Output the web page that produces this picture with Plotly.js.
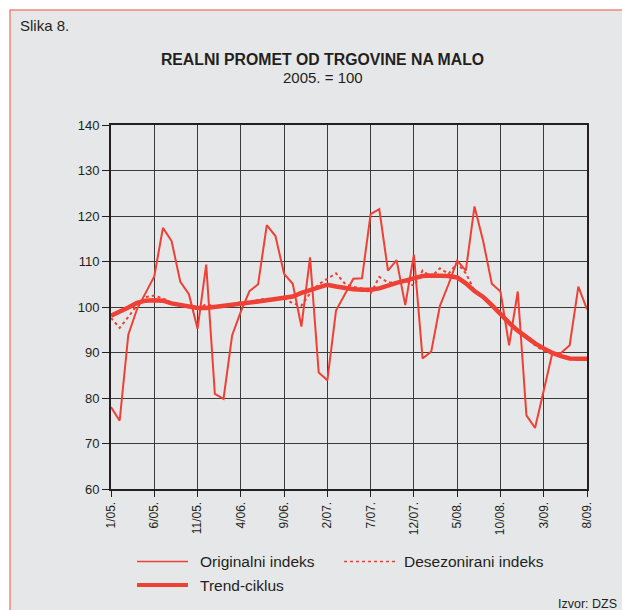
<!DOCTYPE html>
<html>
<head>
<meta charset="utf-8">
<script src="https://cdn.plot.ly/plotly-3.0.1.min.js"></script>
<style>
  html, body { margin: 0; padding: 0; background: #ffffff; overflow: hidden; }
  #chart { width: 622px; height: 610px; }
</style>
</head>
<body>
<div id="chart"></div>
<script>
// Month categories (Jan 2005 – Aug 2009)
const months = [
  "1/05.","2/05.","3/05.","4/05.","5/05.","6/05.","7/05.","8/05.","9/05.","10/05.","11/05.","12/05.",
  "1/06.","2/06.","3/06.","4/06.","5/06.","6/06.","7/06.","8/06.","9/06.","10/06.","11/06.","12/06.",
  "1/07.","2/07.","3/07.","4/07.","5/07.","6/07.","7/07.","8/07.","9/07.","10/07.","11/07.","12/07.",
  "1/08.","2/08.","3/08.","4/08.","5/08.","6/08.","7/08.","8/08.","9/08.","10/08.","11/08.","12/08.",
  "1/09.","2/09.","3/09.","4/09.","5/09.","6/09.","7/09.","8/09."
];

// Tick labels shown on the x axis
const xTickLabels = ["1/05.","6/05.","11/05.","4/06.","9/06.","2/07.","7/07.","12/07.","5/08.","10/08.","3/09.","8/09."];

// Originalni indeks
const originalni = [
  78.0, 75.0, 93.9, 99.5, 103.1, 106.7, 117.4, 114.5, 105.6, 102.8, 95.2, 109.3,
  80.9, 79.8, 93.8, 99.0, 103.5, 105.0, 118.0, 115.6, 107.3, 105.1, 95.7, 110.9,
  85.6, 83.9, 99.2, 102.8, 106.2, 106.3, 120.4, 121.5, 108.0, 110.3, 100.4, 111.5,
  88.7, 90.2, 100.2, 105.0, 110.2, 108.0, 122.1, 114.5, 105.1, 103.4, 91.6, 103.4,
  76.2, 73.4, 81.6, 89.9, 89.9, 91.6, 104.5, 99.5
];

// Desezonirani indeks
const desezonirani = [
  97.6, 95.4, 97.8, 100.4, 102.2, 102.5, 101.9, 100.9, 100.4, 100.2, 99.6, 100.6,
  100.1, 100.3, 100.5, 101.1, 100.9, 101.6, 101.8, 101.5, 102.0, 100.8, 100.3, 103.0,
  105.0, 106.2, 107.4, 105.2, 104.4, 104.1, 103.0, 106.6, 105.4, 105.4, 105.9, 104.6,
  108.0, 106.6, 108.5, 107.3, 109.6, 107.4, 103.6, 102.3, 100.6, 98.3, 96.2, 94.8,
  93.2, 91.6, 90.3, 89.7, 89.2, 88.7, 88.6, 88.6
];

// Trend-ciklus
const trendCiklus = [
  98.1, 98.9, 99.9, 100.9, 101.4, 101.5, 101.4, 100.8, 100.4, 100.1, 99.8, 99.8,
  100.0, 100.2, 100.4, 100.6, 100.9, 101.2, 101.5, 101.7, 101.9, 102.3, 103.1, 103.7,
  104.4, 104.9, 104.5, 104.1, 103.9, 103.8, 103.8, 104.1, 104.8, 105.3, 105.8, 106.3,
  106.8, 106.9, 106.9, 106.8, 106.5, 105.2, 103.5, 102.2, 100.4, 98.4, 96.5, 94.8,
  93.3, 92.0, 90.9, 89.9, 89.2, 88.7, 88.6, 88.6
];

const RED = "#ef4035";
const FONT = "Liberation Sans, Arial, sans-serif";

// plot area in pixels (for placing decorations in paper coords)
const L = 111, R = 587, T = 125, B = 489;
const px = v => (v - L) / (R - L);
const py = v => (B - v) / (B - T);

const traces = [
  { x: months, y: originalni, type: "scatter", mode: "lines", name: "Originalni indeks",
    line: { color: RED, width: 2 }, showlegend: false },
  { x: months, y: desezonirani, type: "scatter", mode: "lines", name: "Desezonirani indeks",
    line: { color: RED, width: 2, dash: "dot" }, showlegend: false },
  { x: months, y: trendCiklus, type: "scatter", mode: "lines", name: "Trend-ciklus",
    line: { color: RED, width: 4.5 }, showlegend: false }
];

const layout = {
  width: 622, height: 610,
  margin: { l: L, r: 622 - R, t: T, b: 610 - B, pad: 0 },
  paper_bgcolor: "#ffffff",
  plot_bgcolor: "rgba(0,0,0,0)",
  font: { family: FONT, color: "#231f20" },
  title: {
    text: "<b>REALNI PROMET OD TRGOVINE NA MALO</b>",
    font: { family: FONT, size: 15.8, color: "#231f20" },
    xref: "paper", x: px(322.5), xanchor: "center",
    yref: "container", y: 1 - 59.5 / 610, yanchor: "middle"
  },
  xaxis: {
    type: "category",
    range: [0, months.length - 1],
    tickmode: "array", tickvals: xTickLabels, ticktext: xTickLabels,
    tickangle: -90,
    tickfont: { family: FONT, size: 12, color: "#231f20" },
    ticks: "outside", ticklen: 6, tickwidth: 1, tickcolor: "#231f20",
    showgrid: true, gridcolor: "#3a3a3a", gridwidth: 1,
    showline: true, linecolor: "#231f20", linewidth: 2, mirror: true,
    zeroline: false, fixedrange: true
  },
  yaxis: {
    range: [60, 140],
    tickmode: "linear", tick0: 60, dtick: 10,
    tickfont: { family: FONT, size: 13, color: "#231f20" },
    ticks: "outside", ticklen: 7, tickwidth: 1, tickcolor: "#231f20",
    showgrid: true, gridcolor: "#3a3a3a", gridwidth: 1,
    showline: true, linecolor: "#231f20", linewidth: 2, mirror: true,
    zeroline: false, fixedrange: true
  },
  shapes: [
    // grey panel with salmon border
    { type: "rect", xref: "paper", yref: "paper", layer: "below",
      x0: px(10), x1: px(660), y0: py(660), y1: py(10),
      fillcolor: "#e6e7e8", line: { color: "#f2857b", width: 1.5 } },
    // custom legend samples
    { type: "line", xref: "paper", yref: "paper",
      x0: px(137), x1: px(188), y0: py(561.5), y1: py(561.5),
      line: { color: RED, width: 1.5 } },
    { type: "line", xref: "paper", yref: "paper",
      x0: px(344), x1: px(395), y0: py(561.5), y1: py(561.5),
      line: { color: RED, width: 1.5, dash: "dot" } },
    { type: "line", xref: "paper", yref: "paper",
      x0: px(137), x1: px(188), y0: py(585), y1: py(585),
      line: { color: RED, width: 4 } }
  ],
  annotations: [
    { text: "Slika 8.", xref: "paper", yref: "paper", x: px(18), y: py(25),
      xanchor: "left", yanchor: "middle", showarrow: false,
      font: { family: FONT, size: 15, color: "#231f20" } },
    { text: "2005. = 100", xref: "paper", yref: "paper", x: px(322.5), y: py(77),
      xanchor: "center", yanchor: "middle", showarrow: false,
      font: { family: FONT, size: 15, color: "#231f20" } },
    { text: "Originalni indeks", xref: "paper", yref: "paper", x: px(198), y: py(561.5),
      xanchor: "left", yanchor: "middle", showarrow: false,
      font: { family: FONT, size: 15.5, color: "#231f20" } },
    { text: "Desezonirani indeks", xref: "paper", yref: "paper", x: px(402), y: py(561.5),
      xanchor: "left", yanchor: "middle", showarrow: false,
      font: { family: FONT, size: 15.5, color: "#231f20" } },
    { text: "Trend-ciklus", xref: "paper", yref: "paper", x: px(198), y: py(585),
      xanchor: "left", yanchor: "middle", showarrow: false,
      font: { family: FONT, size: 15.5, color: "#231f20" } },
    { text: "Izvor: DZS", xref: "paper", yref: "paper", x: px(619), y: py(604),
      xanchor: "right", yanchor: "middle", showarrow: false,
      font: { family: FONT, size: 12.5, color: "#231f20" } }
  ],
  showlegend: false
};

Plotly.newPlot("chart", traces, layout, { displayModeBar: false, staticPlot: true });
</script>
</body>
</html>
